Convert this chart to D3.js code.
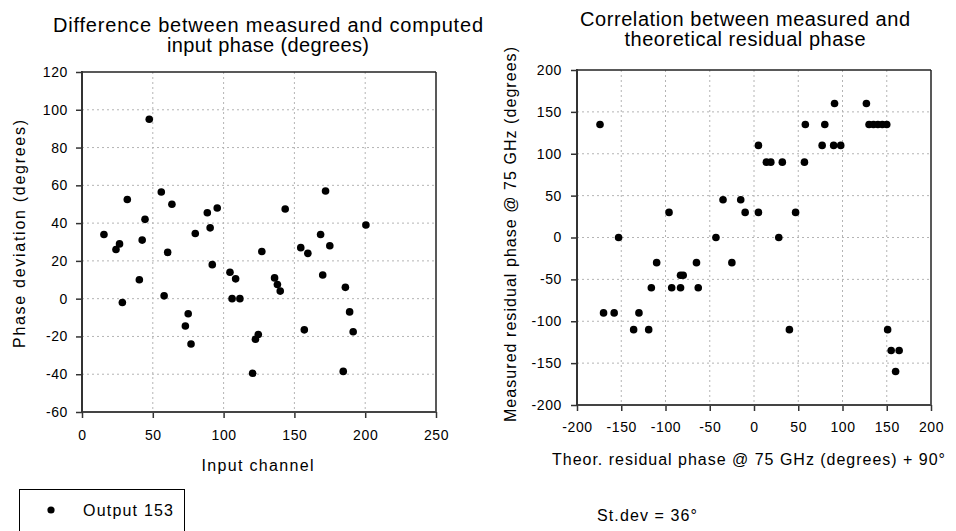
<!DOCTYPE html>
<html><head><meta charset="utf-8">
<script src="https://cdn.jsdelivr.net/npm/d3@7"></script>
<style>
body{margin:0;background:#fff}
svg{display:block}
text{font-family:"Liberation Sans",Arial,sans-serif;fill:#000}
</style>
</head><body>
<svg id="c" width="956" height="531"></svg>
<script>
// ---------- DATA ----------
const leftChannel = [15.5,24,26.5,28.5,32,40.5,42.5,44.5,47.5,56,58,60.5,63.5,73,75,77,80,88.5,90.5,92,95.5,104.5,106,108.5,111.5,120.5,122.5,124.5,127,136,138,140,143.5,154.5,157,159.5,168.5,170,172,175,184.5,186,189,191.5,200.5];
const leftDeviation = [34,26,29,-2,52.5,10,31,42,95,56.5,1.5,24.5,50,-14.5,-8,-24,34.5,45.5,37.5,18,48,14,0,10.5,0,-39.5,-21.5,-19,25,11,7.5,4,47.5,27,-16.5,24,34,12.5,57,28,-38.5,6,-7,-17.5,39];

const rightTheor = [-174,-170,-158,-153,-136,-130,-119,-116,-110,-96,-93,-83,-83,-80,-65,-63,-43,-35,-25,-15,-10,5,5,14,19,28,32,40,47,57,58,77,80,90,91,98,127,130,135,140,145,150,151,155,160,164];
const rightMeasured = [135,-90,-90,0,-110,-90,-110,-60,-30,30,-60,-60,-45,-45,-30,-60,0,45,-30,45,30,30,110,90,90,0,90,-110,30,90,135,110,135,110,160,110,160,135,135,135,135,135,-110,-135,-160,-135];

const leftXTicks = [0,50,100,150,200,250];
const leftYTicks = [-60,-40,-20,0,20,40,60,80,100,120];
const rightXTicks = [-200,-150,-100,-50,0,50,100,150,200];
const rightYTicks = [-200,-150,-100,-50,0,50,100,150,200];

const leftTitle = ["Difference between measured and computed","input phase (degrees)"];
const rightTitle = ["Correlation between measured and","theoretical residual phase"];
const leftXLabel = "Input channel";
const leftYLabel = "Phase deviation (degrees)";
const rightXLabel = "Theor. residual phase @ 75 GHz (degrees) + 90°";
const rightYLabel = "Measured residual phase @ 75 GHz (degrees)";
const legendLabel = "Output 153";
const stdevLabel = "St.dev = 36°";

// ---------- DRAW ----------
const svg = d3.select("#c");
const fmt = d => String(d);

function panel(o){
  const g = svg.append("g");
  const x = d3.scaleLinear().domain(o.xDomain).range([o.x0,o.x1]);
  const y = d3.scaleLinear().domain(o.yDomain).range([o.y1,o.y0]);
  // grid
  const gx = o.xTicks.slice(1,-1), gy = o.yTicks.slice(1,-1);
  g.selectAll(".vg").data(gx).enter().append("line")
    .attr("x1",d=>x(d)).attr("x2",d=>x(d)).attr("y1",o.y0).attr("y2",o.y1)
    .attr("stroke","#b4b4b4").attr("stroke-width",1).attr("stroke-dasharray","2,3");
  g.selectAll(".hg").data(gy).enter().append("line")
    .attr("x1",o.x0).attr("x2",o.x1).attr("y1",d=>y(d)).attr("y2",d=>y(d))
    .attr("stroke","#b4b4b4").attr("stroke-width",1).attr("stroke-dasharray","2,3");
  // axes
  const ax = g.append("g").attr("transform",`translate(0,${o.y1})`)
    .call(d3.axisBottom(x).tickValues(o.xTicks).tickSize(6).tickPadding(o.xPad).tickFormat(fmt));
  const ay = g.append("g").attr("transform",`translate(${o.x0},0)`)
    .call(d3.axisLeft(y).tickValues(o.yTicks).tickSize(6).tickPadding(o.yPad).tickFormat(fmt));
  [ax,ay].forEach(a=>{
    a.select(".domain").remove();
    a.selectAll(".tick line").attr("stroke","#333").attr("stroke-width",1.5);
    a.selectAll(".tick text").style("font-size","14px").style("letter-spacing","0.6px")
      .style("font-family",'"Liberation Sans",Arial,sans-serif').attr("fill","#000");
  });
  // frame
  g.append("line").attr("x1",o.x0).attr("x2",o.x1).attr("y1",o.y0).attr("y2",o.y0).attr("stroke","#222").attr("stroke-width",1.3);
  g.append("line").attr("x1",o.x1).attr("x2",o.x1).attr("y1",o.y0).attr("y2",o.y1).attr("stroke","#222").attr("stroke-width",1.5);
  g.append("line").attr("x1",o.x0).attr("x2",o.x1).attr("y1",o.y1).attr("y2",o.y1).attr("stroke","#444").attr("stroke-width",2);
  g.append("line").attr("x1",o.x0).attr("x2",o.x0).attr("y1",o.y0-1).attr("y2",o.y1+1).attr("stroke","#333").attr("stroke-width",2);
  // dots
  g.selectAll(".pt").data(o.xs.map((v,i)=>[v,o.ys[i]])).enter().append("circle")
    .attr("cx",d=>x(d[0])).attr("cy",d=>y(d[1])).attr("r",3.8).attr("fill","#000");
  // titles
  o.title.forEach((t,i)=>{
    g.append("text").attr("x",o.titleX).attr("y",o.titleY[i]).attr("text-anchor","middle")
      .attr("textLength",o.titleLen[i]).attr("lengthAdjust","spacing")
      .style("font-size","20px").text(t);
  });
  g.append("text").attr("x",o.xlX).attr("y",o.xlY).attr("text-anchor","middle")
    .attr("textLength",o.xlLen).attr("lengthAdjust","spacing").style("font-size","16px").text(o.xLabel);
  g.append("text").attr("transform",`translate(${o.ylX},${o.ylY}) rotate(-90)`).attr("text-anchor","middle")
    .attr("textLength",o.ylLen).attr("lengthAdjust","spacing").style("font-size","16px").text(o.yLabel);
}

panel({x0:82,x1:436,y0:72,y1:412,xDomain:[0,250],yDomain:[-60,120],
  xTicks:leftXTicks,yTicks:leftYTicks,xPad:12,yPad:8,xs:leftChannel,ys:leftDeviation,
  title:leftTitle,titleX:268,titleY:[32,52],titleLen:[430,202],
  xLabel:leftXLabel,xlX:257.5,xlY:471,xlLen:112,
  yLabel:leftYLabel,ylX:25,ylY:234,ylLen:228});

panel({x0:577,x1:931,y0:70,y1:405,xDomain:[-200,200],yDomain:[-200,200],
  xTicks:rightXTicks,yTicks:rightYTicks,xPad:11,yPad:9,xs:rightTheor,ys:rightMeasured,
  title:rightTitle,titleX:745,titleY:[26,46],titleLen:[330,241],
  xLabel:rightXLabel,xlX:748.5,xlY:465,xlLen:393,
  yLabel:rightYLabel,ylX:516,ylY:234.5,ylLen:375});

// legend
svg.append("rect").attr("x",19.5).attr("y",489.5).attr("width",165).attr("height",60)
  .attr("fill","none").attr("stroke","#000").attr("stroke-width",1);
svg.append("circle").attr("cx",51).attr("cy",510).attr("r",3.6).attr("fill","#000");
svg.append("text").attr("x",83).attr("y",516).attr("textLength",90).attr("lengthAdjust","spacing")
  .style("font-size","16px").text(legendLabel);
svg.append("text").attr("x",597).attr("y",521).attr("textLength",100).attr("lengthAdjust","spacing")
  .style("font-size","16px").text(stdevLabel);
</script>
</body></html>
